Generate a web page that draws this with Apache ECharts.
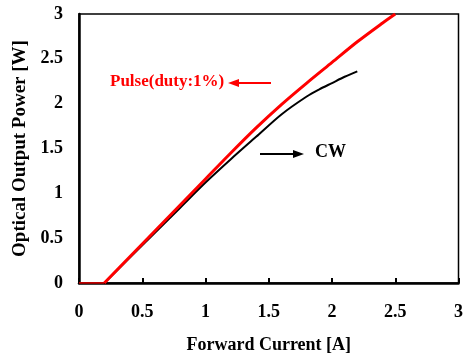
<!DOCTYPE html>
<html><head><meta charset="utf-8">
<script src="https://cdn.jsdelivr.net/npm/echarts@6/dist/echarts.min.js"></script>
<style>html,body{margin:0;padding:0;background:#fff}#c{width:467px;height:356px}</style>
</head><body><div id="c"></div>
<script>
const xTicks = [0, 0.5, 1, 1.5, 2, 2.5, 3];
const yTicks = [0, 0.5, 1, 1.5, 2, 2.5, 3];
const pulseCurrent = [0, 0.2, 0.4, 0.6, 0.8, 1.0, 1.2, 1.4, 1.6, 1.8, 2.0, 2.2, 2.4, 2.5];
const pulsePower   = [0, 0, 0.29, 0.58, 0.87, 1.16, 1.45, 1.73, 1.99, 2.23, 2.46, 2.69, 2.90, 3.0];
const cwCurrent = [0, 0.2, 0.4, 0.6, 0.8, 1.0, 1.2, 1.4, 1.6, 1.8, 1.9, 2.0, 2.1, 2.2];
const cwPower   = [0, 0, 0.28, 0.56, 0.84, 1.12, 1.38, 1.63, 1.88, 2.08, 2.16, 2.23, 2.30, 2.36];

const pts = (xs, ys) => xs.map((x, i) => [x, ys[i]]);
const thr = (ys) => ys.findIndex((y, i) => i > 0 && y > 0) - 1; // threshold index
const pulsePts = pts(pulseCurrent, pulsePower);
const cwPts = pts(cwCurrent, cwPower);
const pT = thr(pulsePower), cT = thr(cwPower);

const font = 'Liberation Serif';
const chart = echarts.init(document.getElementById('c'), null, {renderer: 'canvas'});
chart.setOption({
  animation: false,
  grid: {left: 79, top: 14, right: 8.5, bottom: 73, show: true, borderColor: '#000', borderWidth: 1.5,
    containLabel: false, outerBoundsMode: 'none'},
  xAxis: {
    type: 'value', min: 0, max: 3, interval: 0.5,
    name: 'Forward Current [A]', nameLocation: 'middle', nameGap: 53,
    nameTextStyle: {fontFamily: font, fontWeight: 'bold', fontSize: 18, color: '#000'},
    axisLine: {show: true, lineStyle: {color: '#000', width: 2.5}},
    axisTick: {show: true, inside: true, length: 5, lineStyle: {color: '#000', width: 2}},
    axisLabel: {fontFamily: font, fontWeight: 'bold', fontSize: 18, color: '#000', margin: 20,
      formatter: v => xTicks.includes(v) ? String(v) : ''},
    splitLine: {show: false}
  },
  yAxis: {
    type: 'value', min: 0, max: 3, interval: 0.5,
    name: 'Optical Output Power [W]', nameLocation: 'middle', nameGap: 43,
    nameTextStyle: {fontFamily: font, fontWeight: 'bold', fontSize: 19, color: '#000'},
    axisLine: {show: true, lineStyle: {color: '#000', width: 2.5}},
    axisTick: {show: false},
    axisLabel: {fontFamily: font, fontWeight: 'bold', fontSize: 18, color: '#000', margin: 16,
      formatter: v => yTicks.includes(v) ? String(v) : ''},
    splitLine: {show: false}
  },
  series: [
    {type: 'line', name: 'CW', data: cwPts.slice(0, cT + 1), showSymbol: false,
      lineStyle: {color: '#000', width: 2}, z: 3},
    {type: 'line', name: 'CW', data: cwPts.slice(cT), smooth: 0.3, showSymbol: false,
      lineStyle: {color: '#000', width: 2}, z: 3},
    {type: 'line', name: 'Pulse(duty:1%)', data: pulsePts.slice(0, pT + 1), showSymbol: false,
      lineStyle: {color: '#ff0000', width: 1.5}, z: 4},
    {type: 'line', name: 'Pulse(duty:1%)', data: pulsePts.slice(pT), smooth: 0.3, showSymbol: false,
      lineStyle: {color: '#ff0000', width: 3}, z: 4}
  ],
  graphic: [
    {type: 'text', left: 110, top: 73, style: {text: 'Pulse(duty:1%)', font: 'bold 17px "Liberation Serif"', fill: '#ff0000'}},
    {type: 'line', shape: {x1: 271, y1: 83, x2: 236, y2: 83}, style: {stroke: '#ff0000', lineWidth: 2}},
    {type: 'polygon', shape: {points: [[228, 83], [239, 79], [239, 87]]}, style: {fill: '#ff0000'}},
    {type: 'text', left: 315, top: 143, style: {text: 'CW', font: 'bold 18px "Liberation Serif"', fill: '#000'}},
    {type: 'line', shape: {x1: 260, y1: 154, x2: 295, y2: 154}, style: {stroke: '#000', lineWidth: 2}},
    {type: 'polygon', shape: {points: [[304, 154], [293, 150], [293, 158]]}, style: {fill: '#000'}}
  ]
});
</script></body></html>
